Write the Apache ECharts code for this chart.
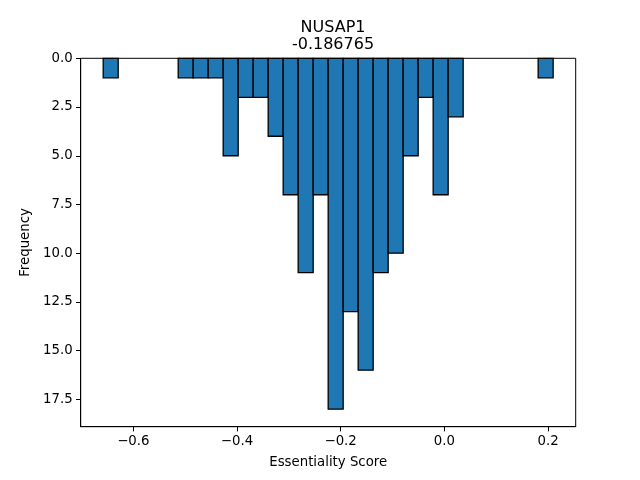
<!DOCTYPE html>
<html>
<head>
<meta charset="utf-8">
<script src="https://cdn.jsdelivr.net/npm/echarts@6/dist/echarts.min.js"></script>
<style>html,body{margin:0;padding:0;background:#fff}#c{width:640px;height:480px}</style>
</head>
<body>
<div id="c"></div>
<script>
// Histogram data (30 bins)
var binStart = -0.658;
var binWidth = 0.02893;
var counts = [1,0,0,0,0,1,1,1,5,2,2,4,7,11,7,18,13,16,11,10,5,2,7,3,0,0,0,0,0,1];
var xTicks = [-0.6, -0.4, -0.2, 0.0, 0.2];
var yTicks = [0, 2.5, 5, 7.5, 10, 12.5, 15, 17.5];
var titleText = 'NUSAP1\n-0.186765';
var xName = 'Essentiality Score';
var yName = 'Frequency';

var bars = [];
for (var i = 0; i < counts.length; i++) {
  if (counts[i] > 0) bars.push([binStart + i * binWidth, binStart + (i + 1) * binWidth, counts[i]]);
}
var FONT = 'DejaVu Sans';
function fmt(v){ var s = Math.abs(v).toFixed(1); return (v < -1e-9 ? '\u2212' : '') + s; }

var chart = echarts.init(document.getElementById('c'), null, {renderer:'canvas'});
chart.setOption({
  animation: false,
  backgroundColor: '#fff',
  title: {
    text: titleText, left: 328, top: 14, textAlign: 'center',
    textStyle: {fontFamily: FONT, fontSize: 16, fontWeight: 'normal', color: '#000', lineHeight: 17}
  },
  grid: {left: 80.7, right: 64.3, top: 58.3, bottom: 53.3, show: true, borderColor: '#000', borderWidth: 1, backgroundColor: 'transparent'},
  xAxis: {
    type: 'value', min: -0.7014, max: 0.2534,
    name: xName, nameLocation: 'middle', nameGap: 29,
    nameTextStyle: {fontFamily: FONT, fontSize: 13.3, color: '#000'},
    axisLine: {show: true, onZero: false, lineStyle: {color: '#000', width: 1}},
    axisTick: {show: true, length: 4.7, lineStyle: {color: '#000', width: 1}, customValues: xTicks},
    axisLabel: {fontFamily: FONT, fontSize: 13.3, color: '#000', margin: 8, customValues: xTicks, formatter: fmt},
    splitLine: {show: false}
  },
  yAxis: {
    type: 'value', min: 0, max: 18.9, inverse: true,
    name: yName, nameLocation: 'middle', nameGap: 42, nameRotate: 90,
    nameTextStyle: {fontFamily: FONT, fontSize: 13.3, color: '#000'},
    axisLine: {show: true, onZero: false, lineStyle: {color: '#000', width: 1}},
    axisTick: {show: true, length: 4.7, lineStyle: {color: '#000', width: 1}, customValues: yTicks},
    axisLabel: {fontFamily: FONT, fontSize: 13.3, color: '#000', margin: 8, customValues: yTicks, formatter: function(v){return v.toFixed(1);}},
    splitLine: {show: false}
  },
  series: [{
    type: 'custom',
    data: bars,
    encode: {x: [0, 1], y: 2},
    renderItem: function(params, api){
      var p0 = api.coord([api.value(0), 0]);
      var p1 = api.coord([api.value(1), api.value(2)]);
      return {
        type: 'rect',
        shape: {x: p0[0], y: Math.min(p0[1], p1[1]), width: p1[0] - p0[0], height: Math.abs(p1[1] - p0[1])},
        style: {fill: '#1f77b4', stroke: '#000', lineWidth: 1.3}
      };
    }
  }]
});
</script>
</body>
</html>
